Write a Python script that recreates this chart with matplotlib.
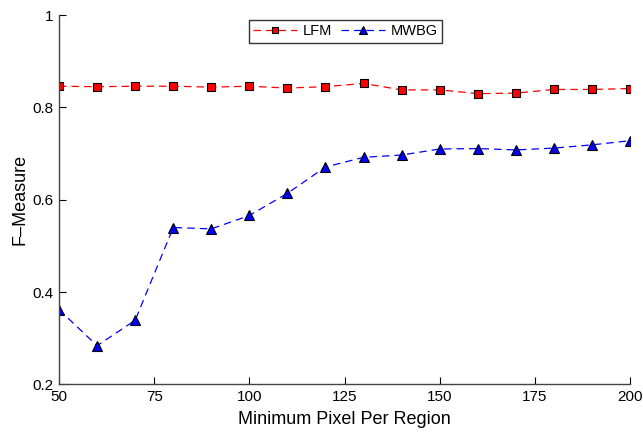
import numpy as np
import matplotlib
matplotlib.use('Agg')
import matplotlib.pyplot as plt

plt.rcParams['font.family'] = ['Liberation Sans', 'DejaVu Sans']

# data
min_pixels = [50, 60, 70, 80, 90, 100, 110, 120, 130, 140, 150, 160, 170, 180, 190, 200]
lfm = [0.846, 0.845, 0.846, 0.846, 0.844, 0.846, 0.842, 0.845, 0.852, 0.838,
       0.838, 0.830, 0.831, 0.839, 0.839, 0.841]
mwbg = [0.362, 0.284, 0.339, 0.540, 0.537, 0.566, 0.614, 0.671, 0.692, 0.697,
        0.710, 0.711, 0.708, 0.712, 0.719, 0.728]
x_ticks = [50, 75, 100, 125, 150, 175, 200]
y_ticks = [0.2, 0.4, 0.6, 0.8, 1.0]
y_tick_labels = ['0.2', '0.4', '0.6', '0.8', '1']

fig = plt.figure(figsize=(6.43, 4.32), dpi=100)
ax = fig.add_axes([0.0918, 0.110, 0.888, 0.855])

# LFM - red squares, MWBG - blue triangles
ax.plot(min_pixels, lfm, label='LFM', color='#ff0000', lw=0.9, ls=(0, (6, 4)),
        marker='s', ms=6, mfc='#ff0000', mec='black', mew=0.8)
ax.plot(min_pixels, mwbg, label='MWBG', color='#0000ff', lw=0.9, ls=(0, (6, 4)),
        marker='^', ms=7.5, mfc='#0000ff', mec='black', mew=0.8)

ax.set_xlim(50, 200)
ax.set_ylim(0.2, 1.0)
ax.set_xticks(x_ticks)
ax.set_yticks(y_ticks)
ax.set_yticklabels(y_tick_labels)
ax.tick_params(direction='in', labelsize=11, length=5, width=0.8, pad=4)
ax.spines['top'].set_visible(False)
ax.spines['right'].set_visible(False)
for s in ('left', 'bottom'):
    ax.spines[s].set_linewidth(1.0)
    ax.spines[s].set_color('#444444')

ax.set_xlabel('Minimum Pixel Per Region', fontsize=13, labelpad=5)
ax.set_ylabel('F\u2013Measure', fontsize=13, labelpad=3)

leg = ax.legend(loc='upper center', bbox_to_anchor=(0.502, 0.987), ncol=2, fontsize=10.5,
                frameon=True, fancybox=False, edgecolor='black', handlelength=3,
                columnspacing=0.6, handletextpad=0.4, borderpad=0.3, borderaxespad=0,
                markerscale=0.8)
leg.get_frame().set_linewidth(1.0)

fig.savefig('out.png', dpi=100)
